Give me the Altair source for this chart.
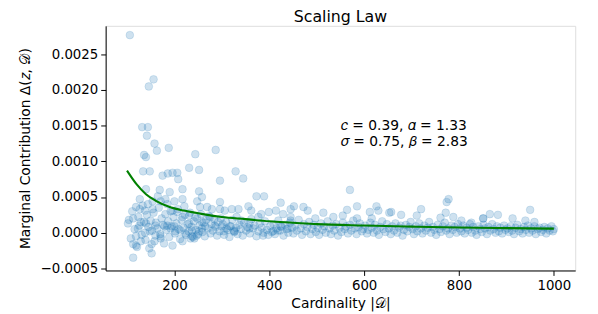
import altair as alt
import pandas as pd

# --- scatter points: cardinality |D| and marginal contribution (in units of 1e-5) ---
card_top = [106, 156, 146, 132, 144, 142, 158, 163, 188, 244, 287, 136, 140, 134, 148,
            175, 186, 196, 206, 208, 231, 252, 296, 329, 345, 140, 169, 190, 217, 252,
            373, 389, 424]
contr_top = [277, 215, 205, 148, 148, 136, 125, 115, 119, 110, 116, 109, 106, 86, 86,
             80, 83, 84, 84, 75, 91, 88, 73, 86, 76, 61, 60, 57, 61, 58,
             51, 51, 42]

card_left = [127, 119, 127, 138, 144, 154, 154, 165, 171, 181, 185, 200, 217, 221, 196,
             206, 102, 113, 123, 129, 140, 148, 138, 160, 179, 185, 192, 200, 202, 213,
             223, 237, 247, 217, 231, 244, 254, 160, 171, 119, 129, 113, 119, 152, 196,
             171, 113, 152, 217, 237, 231, 258, 234, 258, 248]
contr_left = [47, 36, 33, 31, 40, 44, 33, 51, 44, 47, 40, 44, 47, 37, 31,
              29, 13, 20, 6, 15, 13, 2, 0, 10, 9, 10, 6, 9, 2, 3,
              -1, 3, -4, 22, 24, 22, 36, -4, -5, -5, -12, -16, -18, -16, -18,
              -8, -35, -29, -12, -5, 13, 15, -8, 50, 44]

card_fill = [104, 108, 111, 116, 121, 124, 126, 131, 133, 136, 139, 142, 145, 147, 150,
             153, 156, 158, 161, 164, 167, 170, 173, 176, 178, 181, 183, 187, 189, 192,
             194, 198, 201, 204, 207, 209, 212, 215, 219, 222, 225, 228, 230, 233, 236,
             239, 241, 245, 248, 250, 253, 256, 259, 262, 264, 267, 270, 273, 276, 278,
             281, 284, 287, 290, 292, 295, 298]
contr_fill = [18, -8, 30, 5, -20, 22, 10, -3, 38, 15, -10, 25, 8, -22, 17,
              3, 28, -12, 14, 6, 35, -2, 20, 11, -15, 26, 4, 16, -6, 30,
              9, 22, -1, 13, 33, 5, -9, 18, 7, 25, -3, 12, 2, 28, 8,
              -6, 16, 4, 20, -2, 10, 26, 1, 14, -5, 18, 6, 23, -1, 12,
              3, 19, 8, -4, 15, 2, 20]

card_mid = [269, 279, 296, 296, 306, 321, 335, 356, 362, 383, 399, 414, 429, 445, 445,
            265, 258, 285, 300, 310, 317, 325, 304, 327, 358, 358, 387, 408, 418, 424,
            439, 445, 242, 252, 341, 377, 331, 275,
            570, 585, 626, 472, 452, 481, 514, 564, 555, 612, 630, 653, 497, 535, 585, 616,
            778, 774, 657, 678, 720, 711, 772, 761, 788, 805, 826, 851,
            950, 865, 882, 851, 913, 940, 959]
contr_mid = [36, 33, 43, 33, 31, 33, 33, 37, 31, 26, 29, 31, 26, 33, 22,
             9, 6, 10, 9, 6, 9, 3, 2, 2, 13, 6, -4, 2, 3, 9,
             6, 17, -8, 2, 17, 22, 22, 22,
             60, 37, 37, 36, 37, 31, 28, 32, 24, 29, 31, 28, 20, 22, 20, 20,
             47, 43, 29, 25, 33, 24, 28, 21, 22, 17, 14, 20,
             32, 26, 25, 20, 20, 17, 15]

card_band = [302, 305, 309, 312, 316, 319, 322, 326, 330, 333, 337, 340, 344, 347, 351,
             354, 359, 362, 366, 369, 373, 377, 380, 384, 388, 391, 395, 398,
             402, 405, 409, 412, 415, 419, 423, 426, 430, 433, 437, 440, 444, 448, 451,
             455, 458, 462, 466, 469, 473, 477, 480, 484, 487, 491, 494, 498,
             502, 505, 509, 512, 516, 519, 523, 527, 530, 534, 537, 541, 545, 548, 552,
             555, 559, 562, 566, 570, 573, 577, 580, 584, 588, 591, 595, 598,
             602, 606, 609, 613, 616, 620, 623, 627, 631, 634, 638, 641, 645, 648, 652,
             656, 659, 663, 666, 670, 674, 677, 681, 684, 688, 691, 695, 698,
             702, 705, 709, 712, 716, 719, 723, 727, 730, 734, 737, 741, 745, 748, 752,
             755, 759, 762, 766, 770, 773, 777, 780, 784, 787, 791, 795, 798,
             802, 805, 809, 812, 816, 819, 823, 827, 830, 834, 837, 841, 845, 848, 852,
             855, 859, 862, 866, 870, 873, 877, 880, 884, 887, 891, 895, 898,
             902, 905, 909, 912, 916, 919, 923, 927, 930, 934, 937, 941, 945, 948, 952,
             955, 959, 962, 966, 970, 973, 977, 980, 984, 987, 991, 995, 998, 1000]
contr_band = [12, -3, 15, 4, -6, 9, 18, 1, 7, -2, 11, 5, -4, 14, 3,
              8, -1, 19, 6, 10, -5, 2, 13, 7, 0, 16, 4, -3,
              9, 1, 12, -2, 6, 17, 3, 8, -4, 11, 5, 0, 14, 7, -1,
              10, 3, 18, 6, -3, 12, 2, 8, 15, -2, 5, 11, 1,
              7, -3, 13, 4, 9, 0, 16, 6, -2, 10, 3, 12, -4, 7, 1,
              14, 5, 9, -1, 11, 3, 17, 6, -2, 8, 13, 2, 5,
              10, -1, 4, 14, 7, 0, 11, 3, -3, 8, 16, 5, 1, 12, 6,
              -2, 9, 3, 13, 0, 7, 10, -4, 4, 11, 2, 8, 15,
              5, -2, 9, 2, 13, 6, -1, 10, 3, 7, 15, 0, 8, 4, -3,
              11, 5, 1, 9, 14, 3, 6, -2, 10, 4, 8, 0, 12,
              6, 2, 10, -1, 7, 4, 12, 0, 8, 3, -3, 9, 5, 1, 11,
              6, -2, 8, 3, 12, 5, 0, 9, 2, 7, -1, 10, 4,
              6, 1, 9, 3, -2, 7, 11, 2, 5, -1, 8, 4, 10, 0, 6,
              3, 9, -2, 5, 7, 1, 4, 8, -1, 6, 3, 9, 2, 5]

# --- fitted scaling-law curve ---
curve_card = [100, 120, 140, 160, 190, 220, 260, 300, 350, 400, 450, 500, 600, 700, 800, 900, 1000]
curve_contr = [0.00087, 0.00068, 0.00054, 0.00045, 0.00036, 0.00031, 0.00026, 0.00022,
               0.00019, 0.00016, 0.00014, 0.00012, 0.00010, 0.000085, 0.000072, 0.000064, 0.000057]

ann_text = ["𝑐 = 0.39, 𝛼 = 1.33", "𝜎 = 0.75, 𝛽 = 2.83"]
ann_card = [551, 551]
ann_contr = [0.00150, 0.00127]

x_ticks = [200, 400, 600, 800, 1000]
y_ticks = [-0.0005, 0.0, 0.0005, 0.0010, 0.0015, 0.0020, 0.0025]

cards = card_top + card_left + card_fill + card_mid + card_band
contrs = [v * 1e-5 for v in (contr_top + contr_left + contr_fill + contr_mid + contr_band)]
pts = pd.DataFrame({"card": cards, "contr": contrs})
curve = pd.DataFrame({"card": curve_card, "contr": curve_contr})
ann = pd.DataFrame({"card": ann_card, "contr": ann_contr, "text": ann_text})

FONT = "DejaVu Sans"
xs = alt.Scale(domain=[55, 1045], nice=False, zero=False)
ys = alt.Scale(domain=[-0.00053, 0.0029], nice=False, zero=False)

xax = alt.Axis(values=x_ticks, format="d", title="Cardinality |𝒟|", grid=False,
               domainColor="black", tickColor="black", tickSize=5, labelFontSize=13.5,
               titleFontSize=14, titleFontWeight="normal", labelFont=FONT, titleFont=FONT,
               labelColor="black", titleColor="black", labelPadding=3, titlePadding=5)
yax = alt.Axis(values=y_ticks, format=".4f", title="Marginal Contribution Δ(𝑧, 𝒟)", grid=False,
               domainColor="black", tickColor="black", tickSize=5, labelFontSize=13.5,
               titleFontSize=14, titleFontWeight="normal", labelFont=FONT, titleFont=FONT,
               labelColor="black", titleColor="black", labelPadding=3, titlePadding=8)

scatter = alt.Chart(pts).mark_circle(
    size=62, color="#1f77b4", fillOpacity=0.22, stroke="#1f77b4", strokeOpacity=0.15, strokeWidth=1
).encode(x=alt.X("card:Q", scale=xs, axis=xax), y=alt.Y("contr:Q", scale=ys, axis=yax))

line = alt.Chart(curve).mark_line(color="#008000", strokeWidth=2.1, interpolate="monotone").encode(
    x=alt.X("card:Q", scale=xs), y=alt.Y("contr:Q", scale=ys))

text = alt.Chart(ann).mark_text(align="left", baseline="middle", font=FONT, fontSize=14, color="black").encode(
    x=alt.X("card:Q", scale=xs), y=alt.Y("contr:Q", scale=ys), text="text:N")

chart = alt.layer(scatter, line, text).properties(
    width=476, height=248,
    title=alt.Title("Scaling Law", font=FONT, fontSize=16, fontWeight="normal", color="black", offset=1),
    autosize=alt.AutoSizeParams(type="none"),
    padding={"left": 99, "top": 16, "right": 15, "bottom": 40},
).configure_view(stroke=None).configure(background="white")

chart.save("out.html", embed_options={"renderer": "svg", "actions": False})
